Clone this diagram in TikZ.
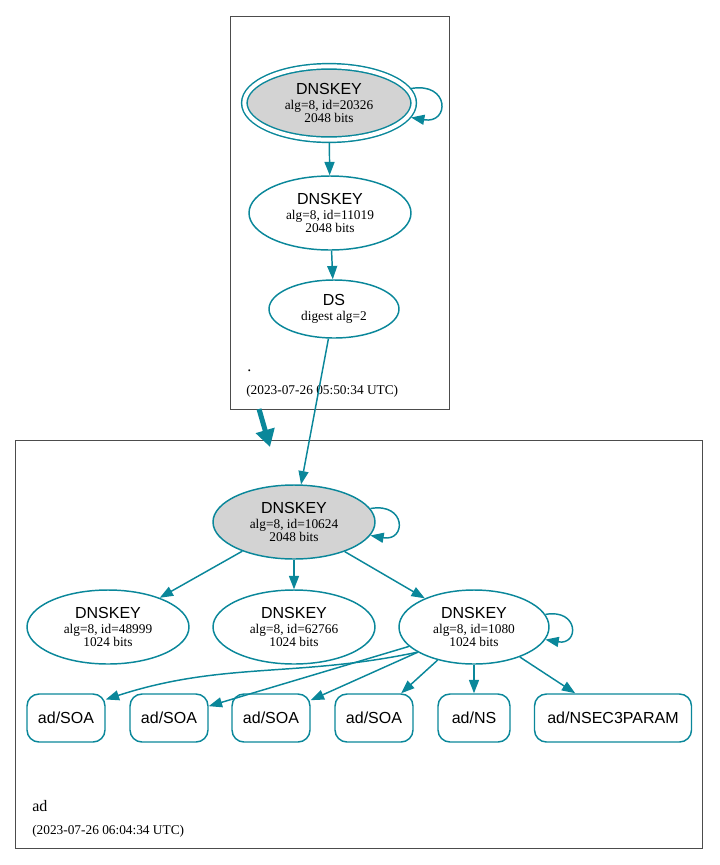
\documentclass[tikz,border=0pt]{standalone}
\usepackage{fontspec}
\setmainfont{Liberation Serif}
\setsansfont{Liberation Sans}
\usetikzlibrary{shapes.geometric,arrows.meta}
\definecolor{dnsteal}{HTML}{0A879A}
\definecolor{keygray}{HTML}{D3D3D3}

\begin{document}
\begin{tikzpicture}
[x=0.75pt,y=0.75pt,
  zoneBox/.style={draw=black!70,line width=0.6pt},%
  keyNode/.style={shape=ellipse,draw=dnsteal,line width=1.1pt,inner sep=0pt,align=center,
    minimum width=121.5pt,minimum height=55.5pt,font=\fontsize{10}{10}\selectfont},%
  sepKey/.style={fill=keygray},%
  trustKey/.style={double,double distance=3pt,outer sep=2.5pt,minimum width=127pt,minimum height=55pt},%
  rrNode/.style={shape=rectangle,rounded corners=9pt,draw=dnsteal,line width=1.1pt,
    minimum height=36pt,font=\sffamily\fontsize{12}{12}\selectfont},%
  zoneLabel/.style={anchor=base west,inner sep=0pt},%
  darkLine/.style={draw=dnsteal,line width=1.1pt,-{Triangle[length=10pt,width=7.5pt]}},%
  selfLoop/.style={darkLine,out=10,in=-10,looseness=3.5},%
  zoneLine/.style={draw=dnsteal,line width=3.75pt,-{Triangle[length=13pt,width=14pt]}}]
\useasboundingbox (0,0) rectangle (719,-865);
%% zones
\draw[zoneBox] (230,-16) rectangle (449,-409);
\draw[zoneBox] (15,-440) rectangle (702,-848);
\node (rootname) at (247,-371) [zoneLabel,font=\fontsize{12}{12}\selectfont] {.};
\node (rootdate) at (246,-394) [zoneLabel,font=\fontsize{10}{10}\selectfont] {(2023-07-26 05:50:34 UTC)};
\node (adname) at (32,-811) [zoneLabel,font=\fontsize{12}{12}\selectfont] {ad};
\node (addate) at (32,-834) [zoneLabel,font=\fontsize{10}{10}\selectfont] {(2023-07-26 06:04:34 UTC)};
%% keys and ds
\node (rootksk) at (329,-103) [keyNode,sepKey,trustKey]
  {\textsf{\fontsize{12}{12}\selectfont DNSKEY}\\[0.75pt]alg=8, id=20326\\2048 bits};
\node (rootzsk) at (330,-213) [keyNode]
  {\textsf{\fontsize{12}{12}\selectfont DNSKEY}\\[0.75pt]alg=8, id=11019\\2048 bits};
\node (rootds) at (334,-309) [keyNode,minimum width=97.5pt,minimum height=43.5pt]
  {\textsf{\fontsize{12}{12}\selectfont DS}\\[0.75pt]digest alg=2};
\node (adksk) at (294,-522) [keyNode,sepKey]
  {\textsf{\fontsize{12}{12}\selectfont DNSKEY}\\[0.75pt]alg=8, id=10624\\2048 bits};
\foreach \nodename/\x/\keyid/\boxwidth in {zsk48999/108/48999/121.5, zsk62766/294/62766/121.5, zsk1080/474/1080/112.5}
{
  \node (\nodename) at (\x,-627) [keyNode,minimum width=\boxwidth pt]
    {\textsf{\fontsize{12}{12}\selectfont DNSKEY}\\[0.75pt]alg=8, id=\keyid\\1024 bits};
}
%% rrsets
\foreach \nodename/\x/\boxwidth/\rrtype in {soaA/66/58.5/SOA, soaB/169/58.5/SOA, soaC/271/58.5/SOA,
  soaD/374/58.5/SOA, adns/474/54/NS, adnsec/613/117.75/NSEC3PARAM}
{
  \node (\nodename) at (\x,-718) [rrNode,minimum width=\boxwidth pt] {ad/\rrtype};
}
%% edges
\path
\foreach \startnode/\endnode in {rootksk/rootzsk, rootzsk/rootds, rootds/adksk, adksk/zsk48999,
  adksk/zsk62766, adksk/zsk1080, zsk1080/soaB, zsk1080/soaC, zsk1080/soaD, zsk1080/adns, zsk1080/adnsec}
{
  (\startnode) edge[darkLine] (\endnode)
};
\path (zsk1080.204) edge[darkLine,out=192,in=18] (soaA.25);
%% self signatures
\path
\foreach \loopnode in {rootksk, adksk, zsk1080}
{
  (\loopnode) edge[selfLoop] (\loopnode)
};
%% delegation
\coordinate (rootout) at (259,-409);
\coordinate (adin) at (270,-447);
\draw[zoneLine] (rootout) -- (adin);
\end{tikzpicture}
\end{document}
